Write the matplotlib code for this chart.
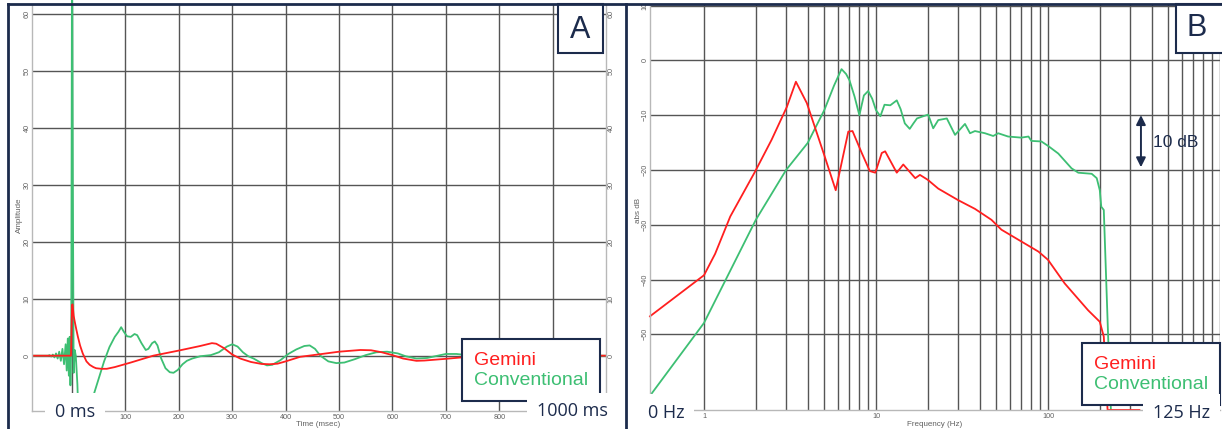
import matplotlib
matplotlib.use("Agg")
import matplotlib.pyplot as plt
from matplotlib.patches import Rectangle
from matplotlib.lines import Line2D

W, H, DPI = 1222, 429, 100

NAVY = "#1c2b4c"
RED = "#ff1f1f"
GREEN = "#3dbf73"
GRID = "#555555"
SPINE = "#b8b8b8"
TICK = "#606060"

series_names = ["Gemini", "Conventional"]

# ---- Panel A: impulse response (time in ms, amplitude) ----
gemini_t = [-75, -2, 0, 1, 3, 5, 8, 11, 15, 20, 27, 33, 40, 45, 55, 65, 80, 110,
            152, 200, 240, 262, 270, 285, 300, 315, 335, 355, 370, 385, 400, 427,
            464, 500, 540, 560, 580, 600, 620, 645, 660, 700, 730, 760, 800, 1000]
gemini_amp = [0, 0, 8.9, 9.0, 7.0, 6.0, 4.6, 3.3, 1.8, 0.4, -1.0, -1.6, -2.0, -2.2, -2.3,
              -2.3, -2.0, -1.2, 0.0, 0.9, 1.7, 2.2, 2.1, 1.3, 0.2, -0.5, -1.1, -1.45,
              -1.5, -1.4, -1.0, -0.2, 0.25, 0.7, 1.0, 0.95, 0.6, 0.1, -0.5, -0.9, -0.85,
              -0.55, -0.3, -0.1, 0.1, 0.0]

conv_t = [-75, -45, -42, -39, -36, -33, -30, -27, -24, -21, -18, -15, -12, -10, -8,
          -6, -4.5, -3, -1.5, 0, 1.5, 3, 5, 7, 10, 13, 20, 30, 40, 50, 60, 70, 80, 87,
          92, 97, 103, 110, 117, 122, 130, 138, 143, 150, 155, 160, 167, 175, 183,
          190, 198, 207, 215, 225, 240, 260, 275, 290, 300, 310, 320, 330, 340, 355,
          365, 375, 390, 405, 420, 435, 445, 455, 465, 480, 495, 510, 530, 550, 570,
          590, 610, 625, 645, 665, 685, 700, 720, 740, 760, 1000]
conv_amp = [0, 0, 0.1, -0.15, 0.2, -0.3, 0.4, -0.5, 0.7, -0.9, 1.2, -1.5, 2.0, -2.6,
            3.0, -3.5, 3.3, -5.2, 2.0, 75, 30, -3, 1, 0, -5, -14, -25, -20, -7, -4,
            -1, 1.5, 3.3, 4.2, 5.0, 4.2, 3.4, 3.3, 3.8, 3.6, 2.2, 1.0, 1.2, 2.2, 2.5,
            1.8, -0.5, -2.2, -2.9, -3.0, -2.5, -1.5, -0.9, -0.5, -0.1, 0.1, 0.6, 1.6,
            2.0, 1.6, 0.6, -0.1, -0.5, -1.3, -1.7, -1.6, -0.8, 0.3, 1.1, 1.7, 1.8, 1.2,
            0.0, -1.0, -1.3, -1.2, -0.6, 0.1, 0.6, 0.7, 0.4, -0.1, -0.5, -0.4, 0.0,
            0.3, 0.3, 0.1, 0.0, 0.0]

time_ticks = [0, 100, 200, 300, 400, 500, 600, 700, 800, 900]
time_labels = ["", "100", "200", "300", "400", "500", "600", "700", "800", ""]
amp_ticks = [0, 10, 20, 30, 40, 50, 60]

# ---- Panel B: amplitude spectrum (frequency in Hz, dB) ----
gemini_f = [0.485, 1.0, 1.16, 1.42, 1.98, 2.47, 3.03, 3.42, 3.96, 5.0, 5.83, 6.9,
            7.3, 8.26, 9.2, 9.9, 10.8, 11.3, 13.2, 14.4, 16.9, 18, 20, 23, 30, 37.6,
            46.9, 53.6, 88, 100, 125, 171, 200, 211, 222, 340]
gemini_db = [-46.7, -39.2, -35.3, -28.5, -20.3, -14.5, -8.5, -3.9, -7.8, -17.3,
             -23.7, -13.0, -12.9, -16.9, -20.2, -20.5, -16.9, -16.6, -20.5, -19.0,
             -21.5, -20.9, -21.8, -23.4, -25.5, -27.1, -29.1, -30.9, -34.9, -36.4,
             -40.7, -45.6, -47.7, -50.4, -63.8, -63.8]

conv_f = [0.485, 1.0, 1.5, 2.0, 3.0, 4.0, 5.0, 5.7, 6.3, 6.7, 7.0, 7.5, 8.0, 8.5,
          9.0, 9.5, 10, 10.6, 11.2, 12.1, 13.2, 13.9, 14.7, 15.7, 16.5, 17.3, 18.4,
          20.1, 21.5, 23, 25.8, 28.8, 32.9, 35.2, 37.6, 43, 48, 51.3, 58.6, 69.9,
          77, 80, 91.5, 100, 114.7, 137, 150, 179.5, 192, 200, 204, 211, 224, 232]
conv_db = [-61.2, -47.9, -36.9, -29.1, -20.0, -15.1, -9.1, -4.6, -1.6, -2.5, -3.6,
           -6.6, -10.0, -6.4, -5.6, -7.0, -9.1, -10.2, -8.1, -8.2, -7.3, -8.9, -11.5,
           -12.5, -11.5, -10.6, -10.3, -9.9, -12.4, -10.9, -10.6, -13.6, -11.6,
           -13.3, -12.9, -13.3, -13.8, -13.3, -13.9, -14.1, -13.9, -14.7, -14.8,
           -15.6, -17.0, -19.7, -20.5, -20.7, -21.5, -23.7, -26.7, -27.3, -51.0,
           -63.8]

freq_major = [1, 10, 100]
freq_labels = ["1", "10", "100"]
freq_minor = [2, 3, 4, 5, 6, 7, 8, 9, 20, 30, 40, 50, 60, 70, 80, 90,
              200, 300, 400, 500, 600, 700, 800, 900, 1000]
db_ticks = [-50, -40, -30, -20, -10, 0, 10]

plt.rcParams["font.family"] = ["Liberation Sans", "DejaVu Sans"]


def frect(x0, y0, x1, y1):
    """Pixel box (top-left origin) -> figure fraction rect."""
    return [x0 / W, 1 - y1 / H, (x1 - x0) / W, (y1 - y0) / H]


def fx(x):
    return x / W


def fy(y):
    return 1 - y / H


fig = plt.figure(figsize=(W / DPI, H / DPI), dpi=DPI, facecolor="white")


def style_axes(ax):
    ax.grid(True, which="both", color=GRID, lw=1.0)
    ax.set_axisbelow(True)
    ax.spines["top"].set_visible(False)
    for s in ("left", "bottom", "right"):
        ax.spines[s].set_color(SPINE)
        ax.spines[s].set_linewidth(1.0)
    ax.tick_params(which="both", length=0, labelsize=5.2, labelcolor=TICK)
    ax.tick_params(axis="x", pad=2.5)
    ax.tick_params(axis="y", pad=1.0, labelrotation=90)
    for lbl in ax.get_yticklabels():
        lbl.set_verticalalignment("center")


def add_legend(ax, handles, x, y):
    leg = ax.legend(handles, series_names, loc="upper left",
                    bbox_to_anchor=(fx(x), fy(y)), bbox_transform=fig.transFigure,
                    handlelength=0, handletextpad=0, fontsize=14, fancybox=False,
                    edgecolor=NAVY, framealpha=1, borderpad=0.62, labelspacing=0.12,
                    borderaxespad=0)
    leg.get_frame().set_linewidth(1.5)
    for txt, h in zip(leg.get_texts(), handles):
        txt.set_color(h.get_color())
    return leg


# ---------------- Panel A ----------------
axA = fig.add_axes(frect(32, 5, 606, 411))
axA.set_xlim(-75, 1000)
axA.set_ylim(-9.7, 61.5)
axA.set_xticks(time_ticks)
axA.set_xticklabels(time_labels)
axA.set_yticks(amp_ticks)
axA.tick_params(axis="y", right=True, labelright=True)
style_axes(axA)
axA.spines["right"].set_visible(True)

line_conv_a, = axA.plot(conv_t, conv_amp, color=GREEN, lw=1.3)
line_gem_a, = axA.plot(gemini_t, gemini_amp, color=RED, lw=1.3)
floor_a = Rectangle((-75, -7), 1075, 80, transform=axA.transData)
line_conv_a.set_clip_path(floor_a)

add_legend(axA, [line_gem_a, line_conv_a], 462, 339)

fig.text(fx(318), fy(424), "Time (msec)", fontsize=5.8, color=TICK,
         ha="center", va="center")
fig.text(fx(19.5), fy(215), "Amplitude", fontsize=5.8, color=TICK,
         ha="center", va="center", rotation=90)

# ---------------- Panel B ----------------
axB = fig.add_axes(frect(650, 5, 1220, 410))
axB.set_xscale("log")
axB.set_xlim(0.485, 1000)
axB.set_ylim(-63.8, 10.1)
axB.set_xticks(freq_major)
axB.set_xticklabels(freq_labels)
axB.set_xticks(freq_minor, minor=True)
axB.set_xticklabels([], minor=True)
axB.set_yticks(db_ticks)
style_axes(axB)
axB.spines["right"].set_visible(False)

line_conv_b, = axB.plot(conv_f, conv_db, color=GREEN, lw=1.3)
line_gem_b, = axB.plot(gemini_f, gemini_db, color=RED, lw=1.3, clip_on=False)

add_legend(axB, [line_gem_b, line_conv_b], 1082, 343)

# 10 dB scale bar
axB.annotate("", xy=(347, -19.5), xytext=(347, -10),
             arrowprops=dict(arrowstyle="<|-|>", color=NAVY, lw=1.4,
                             mutation_scale=14, shrinkA=0, shrinkB=0))
axB.text(408, -15, "10 dB", fontsize=12.5, color=NAVY, ha="left", va="center")

fig.text(fx(935), fy(424), "Frequency (Hz)", fontsize=5.8, color=TICK,
         ha="center", va="center")
fig.text(fx(639), fy(210), "abs dB", fontsize=5.8, color=TICK,
         ha="center", va="center", rotation=90)

# ---------------- Range labels ----------------
box = dict(fc="white", ec="none", boxstyle="square,pad=0.55")
for x, y, s in [(75, 412, "0 ms"), (572.5, 411.5, "1000 ms"),
                (666, 413, "0 Hz"), (1181.5, 412.5, "125 Hz")]:
    fig.text(fx(x), fy(y), s, fontsize=13, color=NAVY, family=["Open Sans", "DejaVu Sans"],
             ha="center", va="center", bbox=box)

# ---------------- Panel letters ----------------
for (x0, y0, x1, y1), letter, (tx, ty) in [((558, 4, 603, 53), "A", (580.5, 29.5)),
                                           ((1176, 4, 1224, 53), "B", (1196.5, 28.5))]:
    fig.add_artist(Rectangle((fx(x0), fy(y1)), (x1 - x0) / W, (y1 - y0) / H,
                             transform=fig.transFigure, fc="white", ec=NAVY, lw=1.5,
                             zorder=5))
    fig.text(fx(tx), fy(ty), letter, fontsize=22, color=NAVY, ha="center",
             va="center", zorder=6)

# ---------------- Panel frames ----------------
for xs, ys in [([fx(8), fx(8)], [0, fy(3.7)]),
               ([fx(8), 1], [fy(3.7), fy(3.7)]),
               ([fx(625.8), fx(625.8)], [0, fy(3.7)])]:
    fig.add_artist(Line2D(xs, ys, transform=fig.transFigure, color=NAVY, lw=2.0,
                          zorder=7))

fig.savefig("out.png", dpi=DPI, facecolor="white")
